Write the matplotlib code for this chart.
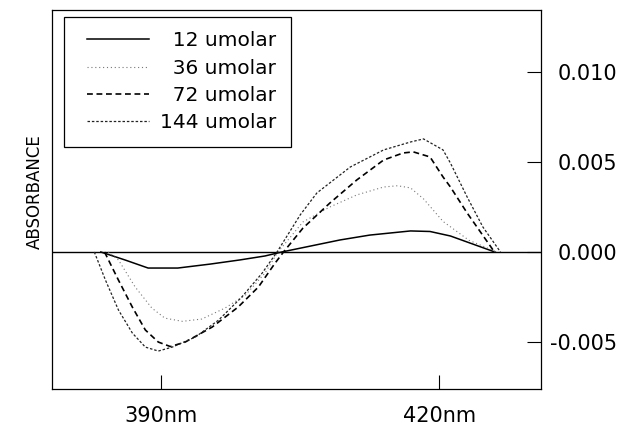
import numpy as np
import matplotlib
matplotlib.use('Agg')
import matplotlib.pyplot as plt
from matplotlib.legend_handler import HandlerLine2D

# wavelength (nm) and absorbance (x 1e-3)
nm_12 = [383.5, 386.1, 388.6, 391.8, 395.3, 398.5, 401.2, 403.0, 406.1, 409.3,
         412.5, 416.9, 419.0, 421.2, 423.3, 426.0]
abs_12 = [0, -0.44, -0.89, -0.89, -0.67, -0.44, -0.22, 0, 0.33, 0.67,
          0.94, 1.17, 1.14, 0.89, 0.50, 0]

nm_36 = [384.3, 385.4, 387.2, 389.0, 390.4, 392.3, 394.4, 396.9, 399.1, 401.2,
         402.6, 405.3, 408.2, 411.1, 414.0, 415.5, 416.9, 418.3, 420.4, 423.2, 426.2]
abs_36 = [0, -0.44, -1.94, -3.11, -3.67, -3.85, -3.72, -3.11, -2.39, -1.17,
          0, 1.67, 2.50, 3.17, 3.61, 3.68, 3.56, 2.95, 1.70, 0.65, 0]

nm_72 = [383.9, 385.4, 386.9, 388.3, 389.7, 391.0, 392.6, 395.5, 398.3, 400.5,
         402.3, 403.2, 405.3, 408.2, 411.1, 414.0, 416.1, 417.2, 419.0, 420.4,
         421.2, 423.0, 425.8, 426.1]
abs_72 = [0, -1.56, -3.06, -4.33, -5.0, -5.25, -5.0, -4.17, -3.06, -1.94,
          -0.61, 0, 1.33, 2.72, 4.0, 5.11, 5.50, 5.56, 5.28, 4.17,
          3.61, 2.17, 0.11, 0]

nm_144 = [382.8, 384.0, 385.4, 386.9, 388.3, 389.7, 391.2, 393.7, 396.2, 398.7,
          400.9, 402.5, 405.0, 406.8, 410.4, 414.0, 416.9, 418.3, 420.4, 421.2,
          423.0, 424.7, 426.6]
abs_144 = [0, -1.56, -3.22, -4.5, -5.28, -5.5, -5.28, -4.72, -3.78, -2.5,
           -1.17, 0, 2.06, 3.28, 4.72, 5.67, 6.11, 6.28, 5.67, 4.94,
           3.06, 1.39, 0]

labels = ['\u200712 umolar', '\u200736 umolar', '\u200772 umolar', '144 umolar']

x_ticks = [390, 420]
x_ticklabels = ['390nm', '420nm']
y_ticks = [-0.005, 0.0, 0.005, 0.010]
y_ticklabels = ['-0.005', '0.000', '0.005', '0.010']

plt.rcParams['axes.unicode_minus'] = False

fig = plt.figure(figsize=(6.35, 4.34), dpi=100)
ax = fig.add_axes([0.0824, 0.1048, 0.7696, 0.8722])

ax.axhline(0, color='black', lw=1.0, zorder=1)

l12, = ax.plot(nm_12, np.array(abs_12) * 1e-3, color='black', lw=1.1)
l36, = ax.plot(nm_36, np.array(abs_36) * 1e-3, color='#777777', lw=0.8,
               dashes=(1, 2.5))
l72, = ax.plot(nm_72, np.array(abs_72) * 1e-3, color='black', lw=1.2,
               dashes=(3.5, 2.2))
l144, = ax.plot(nm_144, np.array(abs_144) * 1e-3, color='#222222', lw=0.9,
                dashes=(2, 1.5))
lines = [l12, l36, l72, l144]

ax.set_xlim(378.27, 430.97)
ax.set_ylim(-0.00758, 0.01344)

ax.set_xticks(x_ticks)
ax.set_xticklabels(x_ticklabels)
ax.set_yticks(y_ticks)
ax.set_yticklabels(y_ticklabels)

ax.tick_params(axis='x', direction='in', length=10, width=0.8,
               labelsize=15, pad=12.5)
ax.tick_params(axis='y', left=False, right=True, labelleft=False,
               labelright=True, direction='in', length=10, width=0.8,
               labelsize=15, pad=55)
plt.setp(ax.get_yticklabels(), ha='right')

for sp in ax.spines.values():
    sp.set_linewidth(0.9)
    sp.set_color('black')

ax.set_ylabel('ABSORBANCE', fontsize=12)
ax.yaxis.set_label_coords(-0.0174, 0.52)

hm = {l: HandlerLine2D(xpad=0.42) for l in lines}
leg = ax.legend(lines, labels, loc='upper left', bbox_to_anchor=(0.023, 0.982),
                borderaxespad=0, fontsize=14.5, handlelength=3.54,
                handletextpad=0.55, labelspacing=0.41, borderpad=0.72,
                fancybox=False, framealpha=1, edgecolor='black',
                handler_map=hm)
leg.get_frame().set_linewidth(0.9)

plt.savefig('out.png', dpi=100)
